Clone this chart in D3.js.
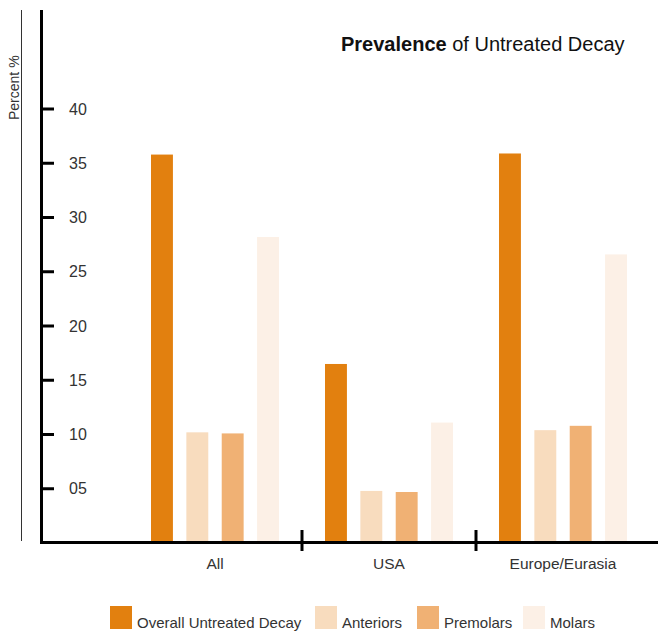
<!DOCTYPE html>
<html><head><meta charset="utf-8">
<script src="https://cdn.jsdelivr.net/npm/d3@7"></script>
<style>body{margin:0;background:#fff}svg{display:block;font-family:"Liberation Sans",Arial,sans-serif}</style>
</head><body><svg id="c" width="658" height="631"></svg>
<script>
const groups = ["All", "USA", "Europe/Eurasia"];
const seriesNames = ["Overall Untreated Decay", "Anteriors", "Premolars", "Molars"];
const overall = [35.8, 16.5, 35.9];
const anteriors = [10.2, 4.8, 10.4];
const premolars = [10.1, 4.7, 10.8];
const molars = [28.2, 11.1, 26.6];
const colors = ["#e2800f", "#f8dcbe", "#f0b174", "#fcf0e6"];
const yTicks = [5, 10, 15, 20, 25, 30, 35, 40];
const yTickLabels = ["05", "10", "15", "20", "25", "30", "35", "40"];

const series = [overall, anteriors, premolars, molars];
const svg = d3.select("#c");
const y = d3.scaleLinear().domain([0, 40]).range([543, 109]);
const x0 = d3.scaleBand().domain(groups).range([128, 650]);
const x1 = d3.scaleBand().domain(seriesNames).range([23, 151]).paddingInner(0.38).paddingOuter(0);

// bars
groups.forEach((g, gi) => {
  seriesNames.forEach((s, si) => {
    svg.append("rect")
      .attr("x", x0(g) + x1(s))
      .attr("y", y(series[si][gi]))
      .attr("width", x1.bandwidth())
      .attr("height", y(0) - y(series[si][gi]))
      .attr("fill", colors[si]);
  });
});

// y axis
svg.append("line").attr("x1", 41.5).attr("x2", 41.5).attr("y1", 10).attr("y2", 544)
  .attr("stroke", "#000").attr("stroke-width", 3);
const yt = svg.append("g");
yTicks.forEach((t, i) => {
  yt.append("line").attr("x1", 41).attr("x2", 54).attr("y1", y(t)).attr("y2", y(t))
    .attr("stroke", "#000").attr("stroke-width", 3);
  yt.append("text").attr("x", 69).attr("y", y(t) + 5.5).attr("font-size", 16)
    .attr("fill", "#333").text(yTickLabels[i]);
});

// x axis
svg.append("line").attr("x1", 40).attr("x2", 658).attr("y1", 542.5).attr("y2", 542.5)
  .attr("stroke", "#000").attr("stroke-width", 3);
groups.slice(1).forEach(g => {
  svg.append("line").attr("x1", x0(g)).attr("x2", x0(g)).attr("y1", 530).attr("y2", 551)
    .attr("stroke", "#000").attr("stroke-width", 3);
});
groups.forEach(g => {
  svg.append("text").attr("x", x0(g) + x0.bandwidth() / 2).attr("y", 569)
    .attr("text-anchor", "middle").attr("font-size", 15.5).attr("fill", "#333").text(g);
});

// y title
svg.append("line").attr("x1", 21.5).attr("x2", 21.5).attr("y1", 10).attr("y2", 541)
  .attr("stroke", "#333").attr("stroke-width", 1);
svg.append("text").attr("transform", "translate(19,120) rotate(-90)")
  .attr("font-size", 14).attr("fill", "#333").text("Percent %");

// title
const tt = svg.append("text").attr("x", 341).attr("y", 51).attr("font-size", 20).attr("fill", "#111");
tt.append("tspan").attr("font-weight", "bold").text("Prevalence");
tt.append("tspan").text(" of Untreated Decay");

// legend
const legX = [110, 315, 417, 523];
seriesNames.forEach((s, i) => {
  svg.append("rect").attr("x", legX[i]).attr("y", 606).attr("width", 22).attr("height", 23).attr("fill", colors[i]);
  svg.append("text").attr("x", legX[i] + 27).attr("y", 628).attr("font-size", 15).attr("fill", "#333").text(s);
});
</script></body></html>
